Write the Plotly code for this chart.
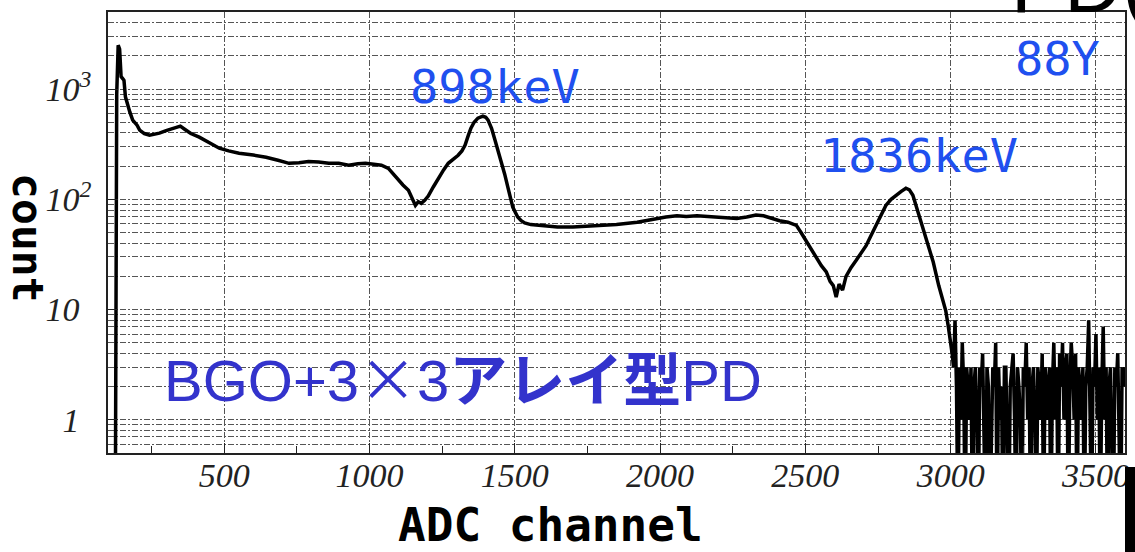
import numpy as np
import plotly.graph_objects as go

# 88Y spectrum, BGO + 3x3 array PD readout
body_channel = [
    100, 110, 120, 125, 130, 135, 140, 145, 150, 155, 160, 165, 175, 185, 200, 209,
    225, 243, 260, 277, 300, 329, 349, 365, 385, 414, 450, 483, 515, 551, 600, 644,
    685, 723, 757, 790, 825, 860, 894, 928, 960, 986, 1015, 1041, 1065, 1080, 1099,
    1115, 1134, 1145, 1158, 1168, 1178, 1190, 1202, 1220, 1236, 1255, 1271, 1290,
    1305, 1318, 1329, 1340, 1349, 1360, 1373, 1390, 1400, 1408, 1420, 1432, 1442,
    1452, 1465, 1476, 1485, 1493, 1502, 1510, 1522, 1534, 1555, 1579, 1610, 1647,
    1700, 1750, 1784, 1850, 1921, 1960, 1990, 2020, 2058, 2090, 2127, 2160, 2195,
    2230, 2264, 2298, 2330, 2356, 2385, 2411, 2440, 2469, 2485, 2503, 2520, 2538,
    2555, 2572, 2585, 2596, 2606, 2616, 2628, 2640, 2657, 2675, 2692, 2709, 2726,
    2743, 2760, 2777, 2795, 2812, 2830, 2846, 2858, 2870, 2880, 2890, 2905, 2925,
    2940, 2959, 2970, 2983, 2992, 3000,
]
body_counts = [
    0, 0, 0, 0, 900, 2500, 2300, 1300, 1250, 1200, 850, 750, 620, 523, 470, 424,
    395, 382, 390, 398, 420, 442, 461, 430, 395, 366, 325, 291, 275, 262, 252, 241,
    226, 212, 215, 220, 218, 212, 212, 204, 210, 212, 208, 204, 191, 172, 149,
    135, 121, 105, 88, 95, 92, 98, 107, 130, 155, 185, 212, 232,
    251, 275, 310, 380, 442, 500, 545, 568, 555, 523, 440, 344, 280,
    226, 170, 129, 100, 85, 76, 69, 64, 61, 59, 58, 57, 56,
    56, 57, 57, 59, 62, 65, 67, 69, 71, 70, 71, 70, 69,
    68, 67, 69, 72, 71, 67, 64, 62, 58, 50, 42, 35, 29,
    25, 22, 18, 16.5, 13, 17, 15, 20, 24, 28, 33, 38, 47,
    58, 72, 88, 100, 109, 118, 126, 122, 109, 90, 71, 55, 38,
    27, 16.5, 13, 9.8, 7, 5.2,
]

# high-channel tail, 5-channel bins from 3005 to 3600
tail_counts = [
    4, 3, 8, 2, 0, 3, 1, 5, 2, 0, 3, 2,
    1, 3, 0, 2, 3, 1, 0, 3, 2, 4, 1, 0,
    3, 2, 0, 1, 3, 2, 5, 0, 3, 1, 2, 0,
    3, 3, 1, 0, 2, 3, 4, 1, 0, 3, 2, 1,
    0, 3, 2, 5, 1, 3, 0, 2, 3, 1, 0, 3,
    2, 1, 4, 0, 3, 2, 1, 3, 0, 2, 5, 1,
    3, 0, 4, 2, 5, 1, 3, 4, 0, 2, 5, 3,
    1, 4, 0, 3, 2, 1, 3, 0, 2, 3, 8, 1,
    0, 3, 2, 6, 1, 3, 0, 2, 7, 1, 3, 0,
    2, 3, 1, 0, 3, 2, 4, 1, 0, 3, 2, 3,
]
tail_channel = list(range(3005, 3005 + 5 * len(tail_counts), 5))

x_ticks = [500, 1000, 1500, 2000, 2500, 3000, 3500]
y_ticks = [1, 10, 100, 1000]
y_tick_text = [
    "1<span style='fill:rgba(0,0,0,0)'><sup>0</sup></span>",
    "10<span style='fill:rgba(0,0,0,0)'><sup>0</sup></span>",
    "10<sup>2</sup>",
    "10<sup>3</sup>",
]

channel = np.array(body_channel + tail_channel, dtype=float)
counts = np.array(body_counts + tail_counts, dtype=float)
# empty channels are drawn down past the bottom of the log axis
counts_plot = np.where(counts > 0, counts, 0.1)

y_lo, y_hi = 0.5, 5000
minor_vals = [d * 10.0 ** k for k in range(-1, 4) for d in range(2, 10)
              if y_lo <= d * 10.0 ** k <= y_hi]

GRID = "#555555"
DASH = "6px,2px,2px,2px"

fig = go.Figure()
fig.add_trace(go.Scatter(
    x=channel, y=counts_plot, mode="lines",
    line=dict(color="black", width=3.5), showlegend=False,
))

fig.update_layout(
    width=1135, height=552,
    margin=dict(l=108, r=5, t=12, b=99),
    paper_bgcolor="white", plot_bgcolor="white",
    xaxis=dict(
        range=[100, 3600], tickvals=x_ticks,
        showgrid=True, gridcolor=GRID, gridwidth=1, griddash=DASH,
        ticks="inside", ticklen=10, tickcolor="#222", tickwidth=1.2,
        minor=dict(dtick=250, tick0=0, ticks="inside", ticklen=7, tickcolor="#222", showgrid=False),
        showline=True, mirror=True, linecolor="#222", linewidth=1.5,
        zeroline=False, ticklabelstandoff=-9,
        tickfont=dict(family="Liberation Serif", size=34, style="italic", color="#222"),
    ),
    yaxis=dict(
        type="log", range=[np.log10(y_lo), np.log10(y_hi)],
        tickvals=y_ticks, ticktext=y_tick_text,
        showgrid=True, gridcolor=GRID, gridwidth=1, griddash=DASH,
        ticks="inside", ticklen=10, tickcolor="#222",
        minor=dict(tickvals=minor_vals, showgrid=True, gridcolor=GRID, gridwidth=1, griddash=DASH, ticks=""),
        showline=True, mirror=True, linecolor="#222", linewidth=1.5,
        zeroline=False, ticklabelstandoff=8,
        tickfont=dict(family="Liberation Serif", size=34, style="italic", color="#222"),
    ),
)

mono = "DejaVu Sans Mono"
peak_blue = "#1f50ef"
annotations = [
    dict(text="ADC channel", x=(553 - 108) / 1022, y=(453 - 525) / 441,
         font=dict(family=mono, size=46, weight="bold", color="black")),
    dict(text="count", x=(28 - 108) / 1022, y=0.5 - 5 / 441, textangle=90,
         font=dict(family=mono, size=43, weight="bold", color="black")),
    dict(text="898keV", x=(497 - 108) / 1022, y=(453 - 86) / 441,
         font=dict(family=mono, size=47, color=peak_blue)),
    dict(text="1836keV", x=(923 - 108) / 1022, y=(453 - 155) / 441,
         font=dict(family=mono, size=47, color=peak_blue)),
    dict(text="88Y", x=(1062 - 108) / 1022, y=(453 - 58) / 441,
         font=dict(family=mono, size=47, color=peak_blue)),
    dict(text="BGO+3<span style='font-family:Noto Sans CJK JP'>×</span>3<b>アレイ型</b>PD",
         x=(465 - 108) / 1022, y=(453 - 376) / 441,
         font=dict(family="Liberation Sans, Noto Sans CJK JP", size=58, color="#3333cc")),
    dict(text="PD(", x=(1013 - 108) / 1022, y=0.958, xanchor="left", yanchor="bottom",
         font=dict(family="Liberation Sans", size=80, color="black")),
]
for a in annotations:
    a.setdefault("xanchor", "center")
    a.setdefault("yanchor", "middle")
    fig.add_annotation(xref="paper", yref="paper", showarrow=False, **a)

fig.add_shape(type="rect", xref="paper", yref="paper",
              x0=1.0, x1=1.012, y0=-0.23, y1=(453 - 467) / 441,
              fillcolor="black", line=dict(width=0))

fig.write_html("out.html")
